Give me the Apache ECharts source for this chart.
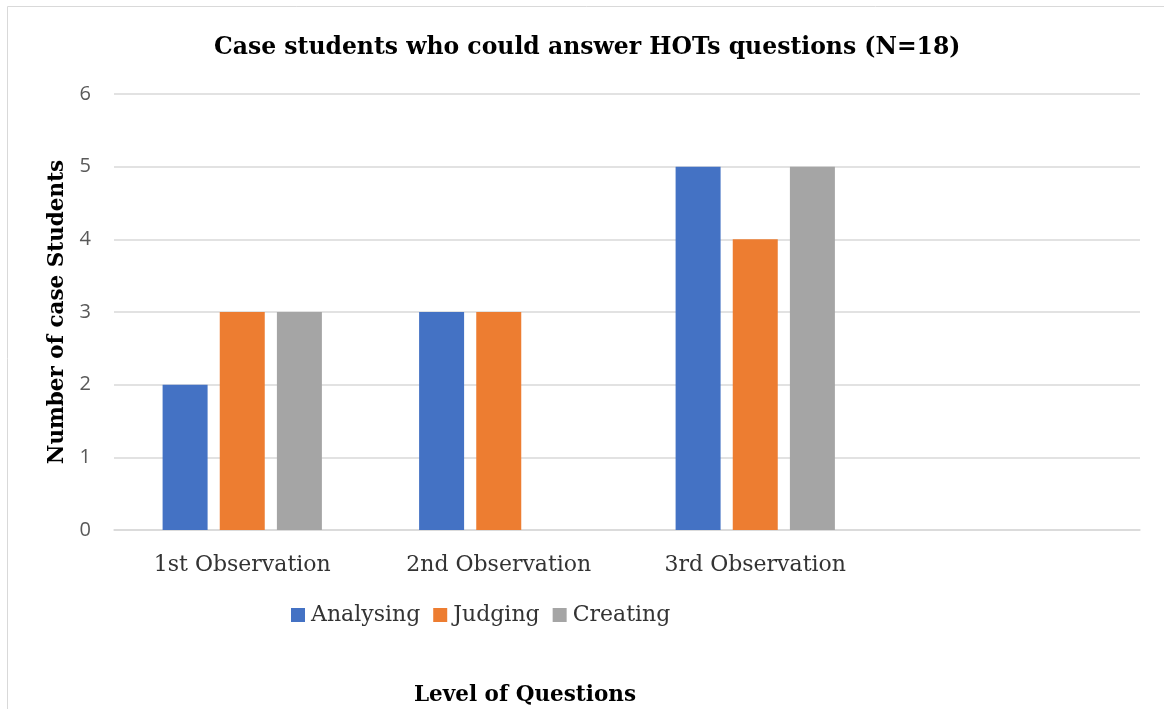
<!DOCTYPE html>
<html>
<head>
<meta charset="utf-8">
<script src="https://cdn.jsdelivr.net/npm/echarts@6/dist/echarts.min.js"></script>
<style>
  html, body { margin: 0; padding: 0; background: #fff; }
  #chart { width: 1164px; height: 709px; }
</style>
</head>
<body>
<div id="chart"></div>
<script>
// data
var categories = ['1st Observation', '2nd Observation', '3rd Observation', '']
var analysing = [2, 3, 5, null]
var judging = [3, 3, 4, null]
var creating = [3, 0, 5, null]
var yTicks = [0, 1, 2, 3, 4, 5, 6]

var serif = '"DejaVu Serif", serif'
var myChart = echarts.init(document.getElementById('chart'))

var option = {
    animation: false,
    color: ['#4472C4', '#ED7D31', '#A5A5A5'],
    title: [
        {
            text: 'Case students who could answer HOTs questions (N=18)',
            left: 209,
            top: 31,
            textStyle: { fontFamily: serif, fontWeight: 'bold', fontSize: 23.5, color: '#000' }
        },
        {
            text: 'Level of Questions',
            left: 409,
            top: 679,
            textStyle: { fontFamily: serif, fontWeight: 'bold', fontSize: 21.5, color: '#000' }
        }
    ],
    graphic: [
        {
            type: 'rect',
            shape: { x: 7.5, y: 6.5, width: 1200, height: 720 },
            style: { fill: 'none', stroke: '#d9d9d9', lineWidth: 1 },
            silent: true
        }
    ],
    legend: {
        left: 286,
        top: 599,
        itemWidth: 14,
        itemHeight: 14,
        itemGap: 13,
        icon: 'rect',
        textStyle: { fontFamily: serif, fontSize: 22, color: '#333', padding: [0, 0, 0, 1] }
    },
    grid: {
        left: 114,
        right: 24,
        top: 94,
        bottom: 179
    },
    xAxis: {
        type: 'category',
        data: categories,
        axisLine: { lineStyle: { color: '#d9d9d9', width: 1.5 } },
        axisTick: { show: false },
        axisLabel: { margin: 24, fontFamily: serif, fontSize: 22, color: '#333' }
    },
    yAxis: {
        type: 'value',
        min: yTicks[0],
        max: yTicks[yTicks.length - 1],
        interval: 1,
        name: 'Number of case Students',
        nameLocation: 'middle',
        nameGap: 46,
        nameTextStyle: { fontFamily: serif, fontWeight: 'bold', fontSize: 21.5, color: '#000' },
        axisLine: { show: false },
        axisTick: { show: false },
        axisLabel: { margin: 23, fontFamily: '"Open Sans", sans-serif', fontSize: 20, color: '#595959' },
        splitLine: { lineStyle: { color: '#d9d9d9', width: 1.5 } }
    },
    series: [
        { name: 'Analysing', type: 'bar', data: analysing, barWidth: 45, barGap: '27%' },
        { name: 'Judging', type: 'bar', data: judging, barWidth: 45, barGap: '27%' },
        { name: 'Creating', type: 'bar', data: creating, barWidth: 45, barGap: '27%' }
    ]
}

option && myChart.setOption(option)
</script>
</body>
</html>
